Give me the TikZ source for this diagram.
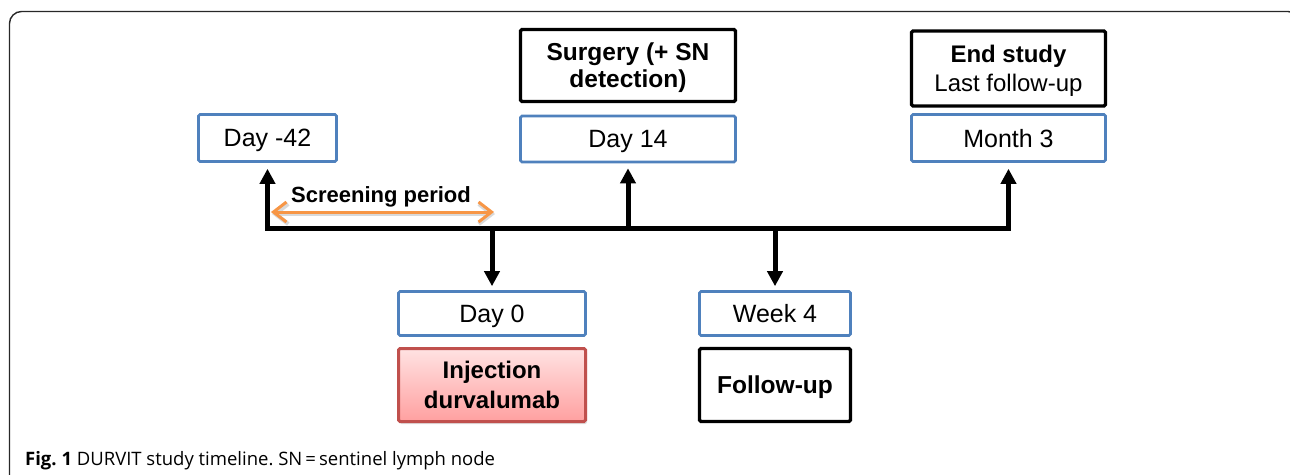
\documentclass[tikz,border=0pt]{standalone}
\usepackage{fontspec}
\setmainfont{Liberation Sans}
\newfontfamily\capfont{Open Sans}
\usetikzlibrary{arrows.meta,shadows}
\frenchspacing

\definecolor{boxblue}{RGB}{79,129,189}
\definecolor{injred}{RGB}{192,80,77}
\definecolor{injtop}{RGB}{255,226,226}
\definecolor{injbot}{RGB}{255,160,160}
\definecolor{scrorange}{RGB}{247,150,70}
\definecolor{framegray}{RGB}{40,40,40}

\tikzset{
  x=1pt, y=-1pt,
  datebox/.style={draw=boxblue, line width=2.6pt, fill=white, rounded corners=1.5pt,
    inner sep=0pt, text depth=0pt, align=center, font=\fontsize{25}{28}\selectfont},
  eventbox/.style={draw=black, line width=3.4pt, fill=white, rounded corners=1.5pt,
    inner sep=0pt, text depth=0pt, align=center, font=\bfseries\fontsize{24.5}{27}\selectfont},
  injbox/.style={draw=injred, line width=3pt, rounded corners=1.5pt,
    top color=injtop, bottom color=injbot, inner sep=0pt, align=center,
    font=\bfseries\fontsize{24}{30}\selectfont,
    drop shadow={opacity=0.25, shadow xshift=1.5pt, shadow yshift=-2.5pt}},
  timeline/.style={line width=5pt, line join=miter, draw=black},
  tip/.style={-{Triangle[length=15pt,width=15pt]}},
  bothtips/.style={{Triangle[length=15pt,width=15pt]}-{Triangle[length=15pt,width=15pt]}},
  screening/.style={draw=scrorange, line width=3pt,
    {Straight Barb[length=13pt,width=20pt]}-{Straight Barb[length=13pt,width=20pt]},
    preaction={draw=black!15, line width=4pt, transform canvas={xshift=1pt,yshift=-2pt}}},
}

\begin{document}
\begin{tikzpicture}
  \path[use as bounding box] (0,0) rectangle (1290,474);

  % outer rounded frame, running off the right and bottom edges
  \begin{scope}
    \clip (0,0) rectangle (1290,474);
    \draw[framegray, line width=1.4pt, rounded corners=12pt] (9.5,500) rectangle (1300,11.5);
  \end{scope}

  % upper row: dates with their events
  \node[datebox, minimum width=138pt, minimum height=47pt] (d42) at (267.5,138) {Day -42};
  \node[datebox, minimum width=215pt, minimum height=46pt] (d14) at (628,139) {Day 14};
  \node[eventbox, minimum width=215pt, minimum height=72pt] (surg) at (628,65.5)
    {Surgery (+ SN\\detection)};
  \node[datebox, minimum width=194pt, minimum height=47pt] (m3) at (1008.5,138) {Month 3};
  \node[eventbox, minimum width=194pt, minimum height=75pt, font=\fontsize{24}{29}\selectfont]
    (end) at (1008.5,68.5) {\textbf{End study}\\Last follow-up};

  % lower row
  \node[datebox, minimum width=187pt, minimum height=44pt] (d0) at (492,313.5) {Day 0};
  \node[injbox, minimum width=187pt, minimum height=73pt] (inj) at (492,385)
    {Injection\\durvalumab};
  \node[datebox, minimum width=151pt, minimum height=44pt] (w4) at (775,313.5) {Week 4};
  \node[eventbox, minimum width=151pt, minimum height=73pt] (fu) at (775,385) {Follow-up};

  % timeline axis
  \coordinate (axis) at (0,228);
  \draw[timeline, bothtips, shorten <=6pt, shorten >=6pt]
    (d42.south) -- (d42.south |- axis) -- (m3.south |- axis) -- (m3.south);
  \draw[timeline, tip, shorten >=5pt] (d14.south |- axis) -- (d14.south);
  \draw[timeline, tip, shorten >=4pt] (d0.north |- axis) -- (d0.north);
  \draw[timeline, tip, shorten >=4pt] (w4.north |- axis) -- (w4.north);

  % screening period span
  \coordinate (scrA) at (271,212);
  \coordinate (scrB) at (494,212);
  \draw[screening] (scrA) -- (scrB);
  \node[anchor=base, inner sep=0pt, font=\bfseries\fontsize{22}{26}\selectfont] (scr)
    at (381,202) {Screening period};

  % caption
  \node[anchor=base west, inner sep=0pt, font=\capfont\fontsize{18.5}{22}\selectfont] (cap)
    at (25,465) {\textbf{Fig. 1} DURVIT study timeline. SN\,=\,sentinel lymph node};
\end{tikzpicture}
\end{document}
